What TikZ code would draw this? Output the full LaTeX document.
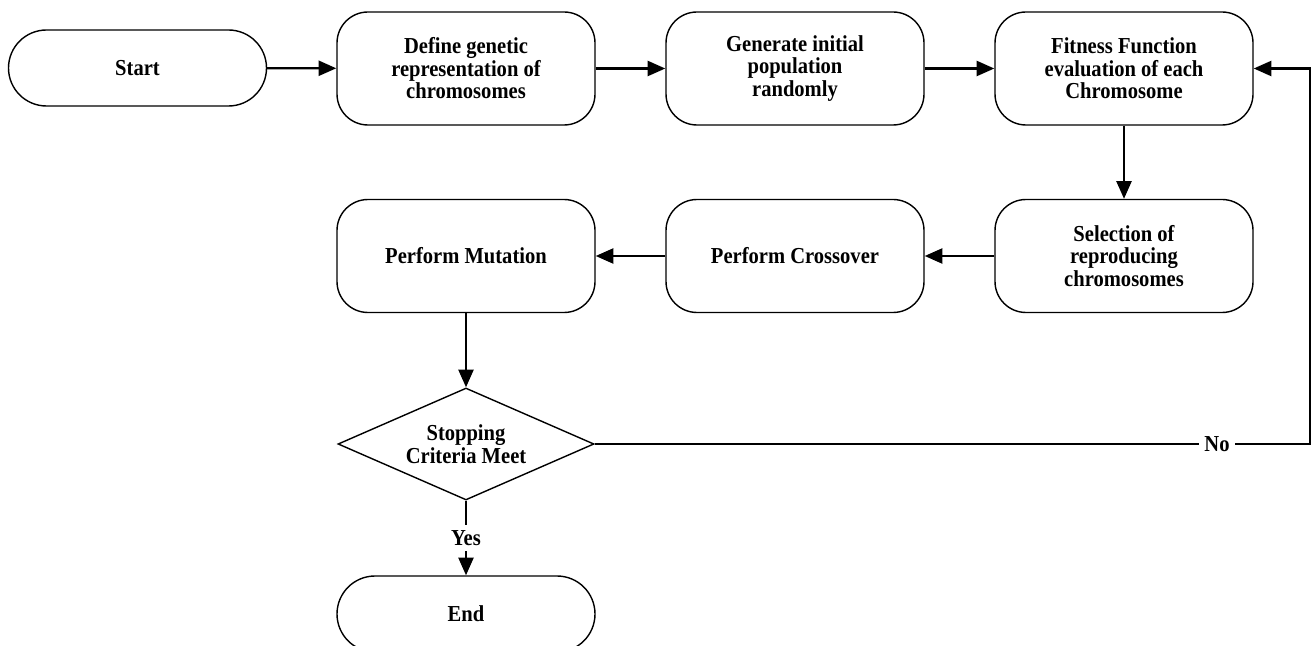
\documentclass[tikz,border=0pt]{standalone}
\usepackage{fontspec}
\setmainfont{Liberation Serif}[FakeStretch=0.9]
\usetikzlibrary{arrows.meta,shapes.geometric}
\begin{document}
\begin{tikzpicture}[
box/.style={draw,line width=0.8pt,rounded corners=0.62cm,minimum width=5.16cm,minimum height=2.26cm,inner sep=0pt,align=center,font=\bfseries\fontsize{13}{12.8}\selectfont},
term/.style={box,rounded corners=0.76cm,minimum height=1.52cm},
test/.style={draw,line width=0.8pt,diamond,aspect=2.3,minimum width=5.12cm,minimum height=2.24cm,inner sep=0pt,align=center,font=\bfseries\fontsize{13}{12.8}\selectfont},
flow/.style={line width=1.3pt,-{Triangle[length=10pt,width=8.5pt]}},
lbl/.style={fill=white,inner sep=3pt,font=\bfseries\fontsize{13}{12.8}\selectfont}]
\useasboundingbox(0,0) rectangle (26.24,12.9);
\clip(0,0) rectangle (26.24,12.9);
\node[term](start) at (2.75,11.54){Start};
\node[box](define) at (9.32,11.53){Define genetic\\representation of\\chromosomes};
\node[box](generate) at (15.9,11.53){Generate initial\\population\\randomly};
\node[box](fitness) at (22.48,11.53){Fitness Function\\evaluation of each\\Chromosome};
\node[box](select) at (22.48,7.78){Selection of\\reproducing\\chromosomes};
\node[box](cross) at (15.9,7.78){Perform Crossover};
\node[box](mutate) at (9.32,7.78){Perform Mutation};
\node[test](stop) at (9.32,4.02){Stopping\\Criteria Meet};
\node[term](end) at (9.32,0.62){End};
\coordinate(loop) at (26.2,4.02);
\draw[flow](start)--(define);
\draw[flow](define)--(generate);
\draw[flow](generate)--(fitness);
\draw[flow](fitness)--(select);
\draw[flow](select)--(cross);
\draw[flow](cross)--(mutate);
\draw[flow](mutate)--(stop);
\draw[flow](stop)--(end)node[pos=0.5,lbl]{Yes};
\draw[flow](stop.east)--(loop)node[pos=0.87,lbl]{No}|-(fitness.east);
\end{tikzpicture}
\end{document}
